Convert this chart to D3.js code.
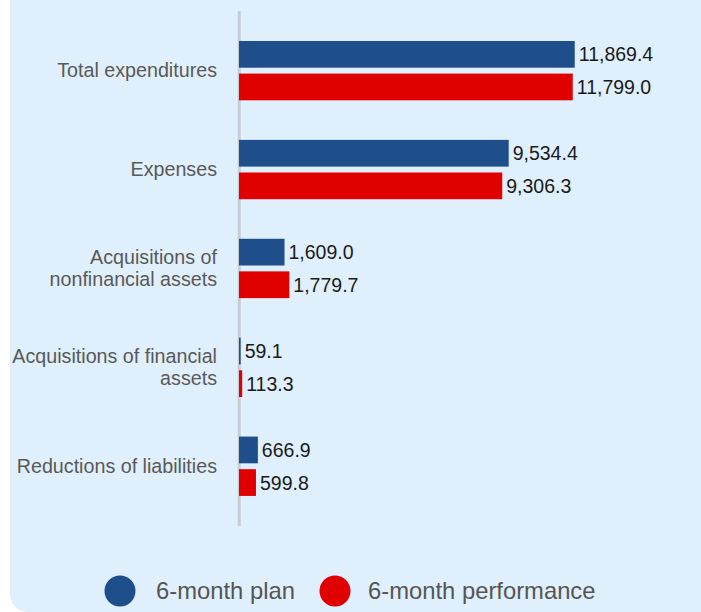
<!DOCTYPE html>
<html>
<head>
<meta charset="utf-8">
<script src="https://cdn.jsdelivr.net/npm/d3@7"></script>
<style>
    html, body { margin: 0; padding: 0; background: #ffffff; }
    svg { display: block; font-family: Arial, "Liberation Sans", sans-serif; }
    .cat-label { fill: #595959; font-size: 19.7px; text-anchor: end; }
    .value-label { fill: #1a1a1a; font-size: 19.5px; }
    .legend-label { fill: #555555; font-size: 23.8px; }
</style>
</head>
<body>
<div id="chart"></div>
<script>
const width = 701
const height = 612

// --- Data ---
const categories = [
    ["Total expenditures"],
    ["Expenses"],
    ["Acquisitions of", "nonfinancial assets"],
    ["Acquisitions of financial", "assets"],
    ["Reductions of liabilities"],
]
const seriesNames = ["6-month plan", "6-month performance"]
const planValues = [11869.4, 9534.4, 1609.0, 59.1, 666.9]
const performanceValues = [11799.0, 9306.3, 1779.7, 113.3, 599.8]
const seriesColors = ["#1f4f8b", "#e00000"]

const rows = categories.map((lines, i) => ({
    key: lines.join(" "),
    lines,
    values: [planValues[i], performanceValues[i]],
}))

const svg = d3.select("#chart").append("svg").attr("width", width).attr("height", height)

// panel background, only bottom-left corner visible as rounded
svg.append("rect")
    .attr("x", 10)
    .attr("y", -30)
    .attr("width", 740)
    .attr("height", 642)
    .attr("rx", 18)
    .attr("fill", "#e0effc")

const x = d3.scaleLinear().domain([0, 14000]).range([239, 635])

const y = d3.scaleBand()
    .domain(rows.map((r) => r.key))
    .range([21.2, 515.7])
    .paddingInner(0.4)
    .paddingOuter(0.2)

const inner = d3.scaleBand()
    .domain(d3.range(seriesNames.length))
    .range([0, y.bandwidth()])
    .paddingInner(0.18)

// axis line
svg.append("line")
    .attr("x1", 239.2)
    .attr("x2", 239.2)
    .attr("y1", 11)
    .attr("y2", 526)
    .attr("stroke", "#c5cdd7")
    .attr("stroke-width", 3)

const groups = svg.selectAll(".group")
    .data(rows)
    .enter()
    .append("g")
    .attr("class", "group")
    .attr("transform", (r) => `translate(0,${y(r.key)})`)

const fmt = d3.format(",.1f")

groups.selectAll("rect")
    .data((r) => r.values.map((v, i) => ({ v, i })))
    .enter()
    .append("rect")
    .attr("x", x(0))
    .attr("y", (d) => inner(d.i))
    .attr("width", (d) => x(d.v) - x(0))
    .attr("height", inner.bandwidth())
    .attr("fill", (d) => seriesColors[d.i])

groups.selectAll(".value-label")
    .data((r) => r.values.map((v, i) => ({ v, i })))
    .enter()
    .append("text")
    .attr("class", "value-label")
    .attr("x", (d) => x(d.v) + 4)
    .attr("y", (d) => inner(d.i) + inner.bandwidth() / 2)
    .attr("dy", "0.36em")
    .text((d) => fmt(d.v))

// category labels
const lineHeight = 21.4
groups.append("text")
    .attr("class", "cat-label")
    .attr("x", 217)
    .attr("y", y.bandwidth() / 2 + 6.6)
    .each(function (r) {
        const t = d3.select(this)
        const offset = -((r.lines.length - 1) * lineHeight) / 2
        r.lines.forEach((line, i) => {
            t.append("tspan")
                .attr("x", 217)
                .attr("dy", i === 0 ? offset : lineHeight)
                .text(line)
        })
    })

// legend
const legendY = 591
const legendItems = [
    { name: seriesNames[0], color: seriesColors[0], cx: 120, tx: 156 },
    { name: seriesNames[1], color: seriesColors[1], cx: 335, tx: 368 },
]
const legend = svg.selectAll(".legend")
    .data(legendItems)
    .enter()
    .append("g")
    .attr("class", "legend")

legend.append("circle")
    .attr("cx", (d) => d.cx)
    .attr("cy", legendY)
    .attr("r", 15.5)
    .attr("fill", (d) => d.color)

legend.append("text")
    .attr("class", "legend-label")
    .attr("x", (d) => d.tx)
    .attr("y", legendY)
    .attr("dy", "0.35em")
    .text((d) => d.name)
</script>
</body>
</html>
